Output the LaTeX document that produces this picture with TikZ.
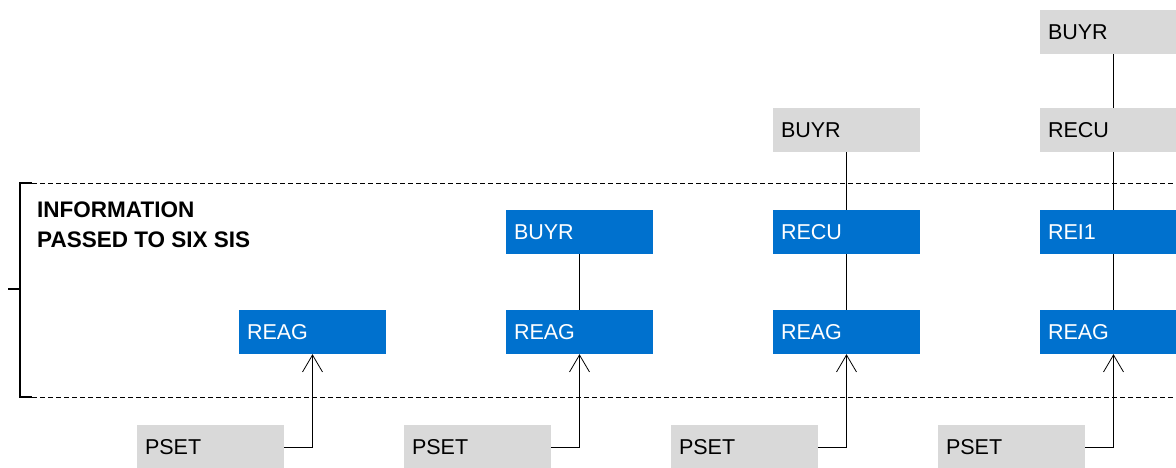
\documentclass[tikz,border=0pt]{standalone}
\usepackage{fontspec}
\setmainfont{Liberation Sans}
\usetikzlibrary{arrows.meta}
\definecolor{sisblue}{RGB}{0,113,206}
\definecolor{msggrey}{RGB}{217,217,217}
\tikzset{
  msgbox/.style={minimum width=147pt,minimum height=44pt,text width=131pt,
    inner xsep=8pt,inner ysep=0pt,align=left,font=\fontsize{21.5pt}{24pt}\selectfont},
  greybox/.style={msgbox,fill=msggrey,text=black},
  bluebox/.style={msgbox,fill=sisblue,text=white},
  headline/.style={anchor=base west,inner sep=0pt,font=\fontsize{22.5pt}{26pt}\selectfont\bfseries},
  link/.style={line width=0.8pt},
  feed/.style={line width=0.8pt,-{Straight Barb[length=17pt,width=20pt,line width=0.8pt]}},
  border/.style={line width=0.9pt,dash pattern=on 5pt off 3pt}
}
\begin{document}
\begin{tikzpicture}[x=1pt,y=-1pt]
\useasboundingbox (0,0) rectangle (1176,468);
% limits of the SIS block
\draw[border] (32,183) -- (1176,183);
\draw[border] (32,397) -- (1176,397);
\draw[line width=2.5pt] (32,183) -- (20,183) -- (20,397) -- (32,397);
\draw[line width=2.5pt] (8,289) -- (20,289);
\node[headline] (info1) at (37,218) {INFORMATION};
\node[headline] (info2) at (37,247) {PASSED TO SIX SIS};
% incoming PSET and REAG in every column
\foreach \i in {1,...,4} {
  \node[greybox] (pset\i) at (210.5+267*\i-267,447) {PSET};
  \node[bluebox] (reag\i) at (312.5+267*\i-267,332) {REAG};
  \draw[feed] (pset\i.east) -| (reag\i.south);
}
% column 2
\node[bluebox] (buyr2) at (579.5,232) {BUYR};
\draw[link] (buyr2) -- (reag2);
% column 3
\node[bluebox] (recu3) at (846.5,232) {RECU};
\node[greybox] (buyr3) at (846.5,130) {BUYR};
\draw[link] (buyr3) -- (recu3);
\draw[link] (recu3) -- (reag3);
% column 4
\node[bluebox] (rei4) at (1113.5,232) {REI1};
\node[greybox] (recu4) at (1113.5,130) {RECU};
\node[greybox] (buyr4) at (1113.5,32) {BUYR};
\draw[link] (buyr4) -- (recu4);
\draw[link] (recu4) -- (rei4);
\draw[link] (rei4) -- (reag4);
\end{tikzpicture}
\end{document}
